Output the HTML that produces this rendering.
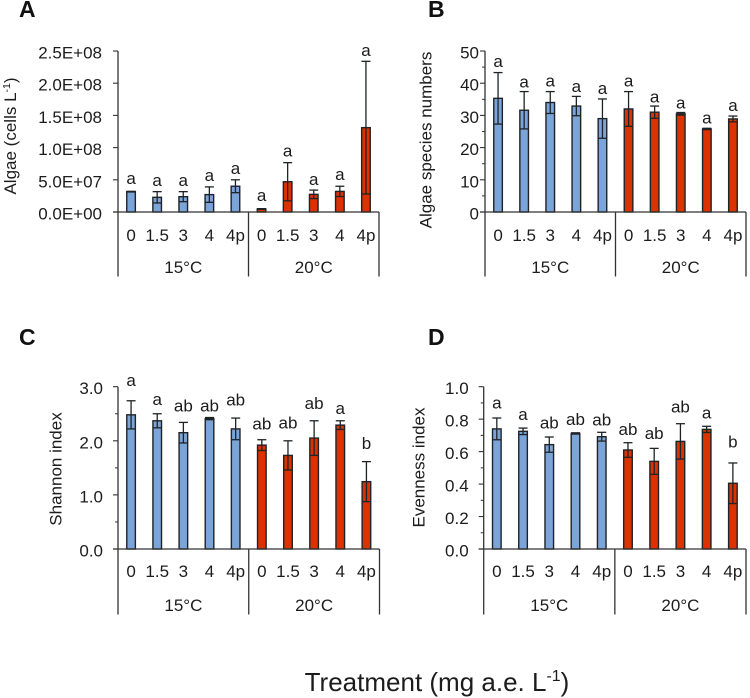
<!DOCTYPE html>
<html>
<head>
<meta charset="utf-8">
<title>Algae treatment panels</title>
<style>
html,body{margin:0;padding:0;background:#fff}
svg{display:block;font-family:"Liberation Sans",Arial,sans-serif;fill:#1c1c1c}
.tick{font-size:17px}
.bold{font-weight:700;font-size:23px;fill:#111}
</style>
</head>
<body>
<svg id="chart" width="750" height="698" viewBox="0 0 750 698" xmlns="http://www.w3.org/2000/svg">
  <text class="bold" x="19" y="17">A</text>
  <text class="bold" x="428" y="17">B</text>
  <text class="bold" x="19" y="345">C</text>
  <text class="bold" x="428" y="345">D</text>
  <text class="tick" text-anchor="middle" transform="translate(16,136) rotate(-90)">Algae (cells L<tspan font-size="10.5" dy="-6">-1</tspan><tspan dy="6">)</tspan></text>
  <text class="tick" text-anchor="middle" transform="translate(431.5,140) rotate(-90)">Algae species numbers</text>
  <text class="tick" text-anchor="middle" transform="translate(61.5,469) rotate(-90)">Shannon index</text>
  <text class="tick" text-anchor="middle" transform="translate(424.5,467.5) rotate(-90)">Evenness index</text>
  <text x="437" y="691" text-anchor="middle" font-size="26px">Treatment (mg a.e. L<tspan font-size="16" dy="-10">-1</tspan><tspan dy="10">)</tspan></text>
</svg>
<script>
const categories = ['0','1.5','3','4','4p','0','1.5','3','4','4p'];
const groups = ['15°C','20°C'];

const algaeValues = [31.6,22.8,23.8,27,40,4.7,47,27.4,32,131];
const algaeErrors = [0.5,8.8,7.8,12,10,0.5,29.6,6.6,8,103];
const algaeLetters = ['a','a','a','a','a','a','a','a','a','a'];
const algaeLetterLevels = [43.5,40.4,40.4,48.1,59,17.1,85.9,41.9,49.7,242];
const algaeTicks = ['0.0E+00','5.0E+07','1.0E+08','1.5E+08','2.0E+08','2.5E+08'];

const speciesValues = [35.3,31.6,34,32.9,29,32,31,30.5,25.8,28.9];
const speciesErrors = [8,5.8,3.4,3,6.1,5.4,1.9,0.4,0.2,0.9];
const speciesLetters = ['a','a','a','a','a','a','a','a','a','a'];
const speciesLetterLevels = [45.1,38.7,38.9,37.2,36.6,38.9,34,32.1,27.5,31.4];
const speciesTicks = ['0','10','20','30','40','50'];

const shannonValues = [2.48,2.37,2.15,2.41,2.22,1.92,1.73,2.05,2.29,1.245];
const shannonErrors = [0.26,0.13,0.19,0.02,0.2,0.1,0.27,0.32,0.08,0.37];
const shannonLetters = ['a','a','ab','ab','ab','ab','ab','ab','a','b'];
const shannonLetterLevels = [3.01,2.66,2.54,2.54,2.65,2.21,2.23,2.59,2.5,1.85];
const shannonTicks = ['0.0','1.0','2.0','3.0'];

const evennessValues = [0.74,0.725,0.643,0.712,0.692,0.61,0.54,0.663,0.737,0.405];
const evennessErrors = [0.067,0.02,0.047,0.004,0.027,0.045,0.08,0.109,0.019,0.125];
const evennessLetters = ['a','a','ab','ab','ab','ab','ab','ab','a','b'];
const evennessLetterLevels = [0.867,0.795,0.743,0.764,0.76,0.702,0.678,0.84,0.805,0.626];
const evennessTicks = ['0.0','0.2','0.4','0.6','0.8','1.0'];

const svg = document.getElementById('chart');
const NS = 'http://www.w3.org/2000/svg';
const AXIS = '#333333', EDGE = '#1f2327', BLUE = '#7ba4d8', RED = '#dc3200';

function line(x1, y1, x2, y2, color, width) {
  const el = document.createElementNS(NS, 'line');
  el.setAttribute('x1', x1);
  el.setAttribute('y1', y1);
  el.setAttribute('x2', x2);
  el.setAttribute('y2', y2);
  el.setAttribute('stroke', color);
  el.setAttribute('stroke-width', width);
  svg.appendChild(el);
  return el;
}
function label(x, y, str, anchor) {
  const el = document.createElementNS(NS, 'text');
  el.setAttribute('x', x);
  el.setAttribute('y', y);
  el.setAttribute('text-anchor', anchor);
  el.setAttribute('class', 'tick');
  el.textContent = str;
  svg.appendChild(el);
  return el;
}

function drawPanel(id, left, right, top, bottom, maxV, ticks, minorPerMajor, values, errors, letters, levels, catDrop, groupDrop, labelGap) {
  const slot = (right - left) / categories.length;
  const xAt = i => left + slot * (i + 0.5);
  const yAt = v => bottom - (v / maxV) * (bottom - top);
  const barW = 8.6;

  values.forEach((v, i) => {
    const bar = document.createElementNS(NS, 'rect');
    bar.setAttribute('x', xAt(i) - barW / 2);
    bar.setAttribute('y', yAt(v));
    bar.setAttribute('width', barW);
    bar.setAttribute('height', bottom - yAt(v));
    bar.setAttribute('fill', i < 5 ? BLUE : RED);
    bar.setAttribute('stroke', EDGE);
    bar.setAttribute('stroke-width', 1.4);
    
    
    svg.appendChild(bar);

    const hi = yAt(v + errors[i]);
    const lo = Math.min(yAt(v - errors[i]), bottom);
    const stem = line(xAt(i), hi, xAt(i), lo, EDGE, 1.3);
    
    
    const capTop = line(xAt(i) - 4.5, hi, xAt(i) + 4.5, hi, EDGE, 1.3);
    
    
    const capLow = line(xAt(i) - 4.5, lo, xAt(i) + 4.5, lo, EDGE, 1.3);
    
    

    const sig = label(xAt(i), yAt(levels[i]), letters[i], 'middle');
    
    

    const cat = label(xAt(i), bottom + catDrop, categories[i], 'middle');
    
    
  });

  const yAxis = line(left, top, left, bottom, AXIS, 1.3);
  
  
  const xAxis = line(left - 5, bottom, right, bottom, AXIS, 1.3);
  
  

  const majors = ticks.length - 1;
  ticks.forEach((t, i) => {
    const y = bottom - (bottom - top) * i / majors;
    const mark = line(left - 5, y, left, y, AXIS, 1.1);
    
    
    const txt = label(left - labelGap, y + 7.5, t, 'end');
    
    
    for (let m = 1; m < minorPerMajor && i < majors; m++) {
      const my = y - (bottom - top) / majors * m / minorPerMajor;
      const minor = line(left - 3, my, left, my, AXIS, 1);
      
      
    }
  });

  [0, 5, 10].forEach(k => {
    const x = left + slot * k;
    const sep = line(x, bottom, x, bottom + groupDrop + 3.5, AXIS, 1.3);
    
    
  });
  groups.forEach((g, i) => {
    const txt = label(left + slot * (2.5 + 5 * i), bottom + groupDrop, g, 'middle');
    
    
  });
}

drawPanel('a', 118, 379, 51, 212, 250, algaeTicks, 1, algaeValues, algaeErrors, algaeLetters, algaeLetterLevels, 29, 61, 16);
drawPanel('b', 485, 746, 51, 212, 50, speciesTicks, 2, speciesValues, speciesErrors, speciesLetters, speciesLetterLevels, 29, 61, 6);
drawPanel('c', 118, 379.5, 386.7, 549, 3, shannonTicks, 2, shannonValues, shannonErrors, shannonLetters, shannonLetterLevels, 28, 62, 15);
drawPanel('d', 483.7, 746, 386.7, 549, 1, evennessTicks, 2, evennessValues, evennessErrors, evennessLetters, evennessLetterLevels, 28, 62, 15);
</script>
</body>
</html>
